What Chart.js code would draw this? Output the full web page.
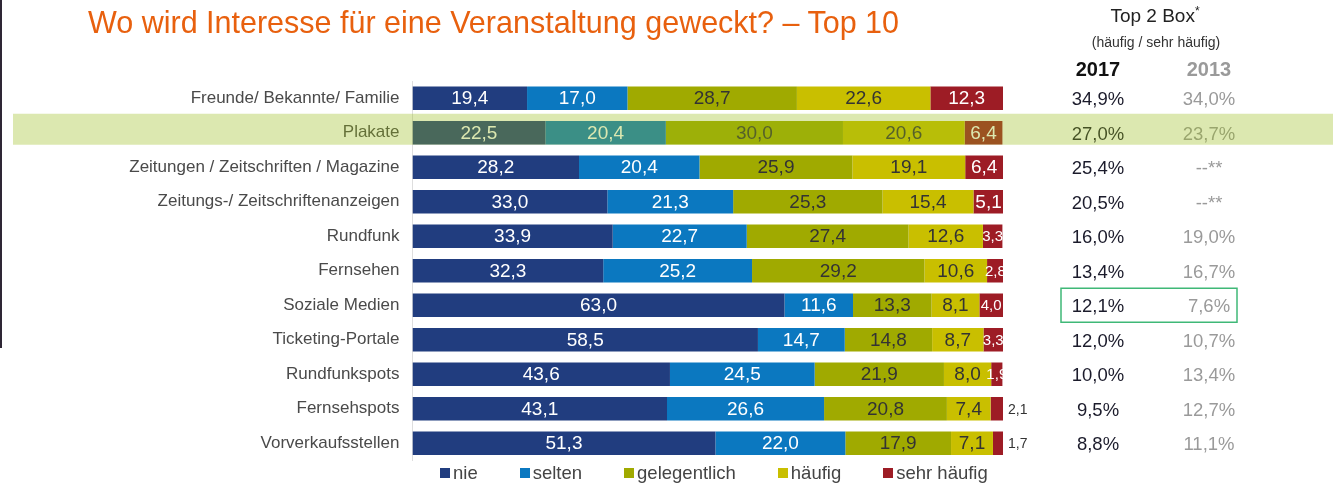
<!DOCTYPE html>
<html lang="de">
<head>
<meta charset="utf-8">
<script src="https://cdn.jsdelivr.net/npm/chart.js@4.4.0/dist/chart.umd.min.js"></script>
<style>
  body { margin: 0; background: #fff; font-family: "Liberation Sans", Arial, sans-serif; }
  #wrap { position: relative; width: 1340px; height: 486px; overflow: hidden; }
  canvas { position: absolute; left: 0; top: 0; }
  #rand { position: absolute; left: 0; top: 0; width: 2px; height: 348px; background: #2e2635; }
  #titel { position: absolute; left: 88px; top: 5px; font-size: 30.5px; line-height: 34px; color: #e8600e; white-space: nowrap; }
  .kopf { position: absolute; transform: translateX(-50%); white-space: nowrap; }
  #legende { position: absolute; left: 440px; top: 462px; display: flex; align-items: center; font-size: 18.5px; color: #444; }
  #legende span.item { display: flex; align-items: center; margin-right: 42px; }
  #legende span.box { width: 10px; height: 10px; margin-right: 3px; display: inline-block; }
</style>
</head>
<body>
<div id="wrap">
  <canvas id="chart" width="1340" height="486"></canvas>
  <div id="rand"></div>
  <div id="titel">Wo wird Interesse für eine Veranstaltung geweckt? – Top 10</div>
  <div class="kopf" style="left:1155px;top:4px;font-size:19px;color:#222;">Top 2 Box<sup style="font-size:12px">*</sup></div>
  <div class="kopf" style="left:1156px;top:34px;font-size:14px;color:#333;">(häufig / sehr häufig)</div>
  <div class="kopf" style="left:1098px;top:58px;font-size:20px;font-weight:bold;color:#111;">2017</div>
  <div class="kopf" style="left:1209px;top:58px;font-size:20px;font-weight:bold;color:#9a9a9a;">2013</div>
  <div id="legende"></div>
</div>
<script>
// Wo wird Interesse geweckt? (Angaben in %)
const kategorien = [
  'Freunde/ Bekannte/ Familie', 'Plakate', 'Zeitungen / Zeitschriften / Magazine',
  'Zeitungs-/ Zeitschriftenanzeigen', 'Rundfunk', 'Fernsehen', 'Soziale Medien',
  'Ticketing-Portale', 'Rundfunkspots', 'Fernsehspots', 'Vorverkaufsstellen'
];
const nie          = [19.4, 22.5, 28.2, 33.0, 33.9, 32.3, 63.0, 58.5, 43.6, 43.1, 51.3];
const selten       = [17.0, 20.4, 20.4, 21.3, 22.7, 25.2, 11.6, 14.7, 24.5, 26.6, 22.0];
const gelegentlich = [28.7, 30.0, 25.9, 25.3, 27.4, 29.2, 13.3, 14.8, 21.9, 20.8, 17.9];
const haeufig      = [22.6, 20.6, 19.1, 15.4, 12.6, 10.6, 8.1, 8.7, 8.0, 7.4, 7.1];
const sehrHaeufig  = [12.3, 6.4, 6.4, 5.1, 3.3, 2.8, 4.0, 3.3, 1.9, 2.1, 1.7];

// Top 2 Box Spalten
const top2017 = ['34,9%', '27,0%', '25,4%', '20,5%', '16,0%', '13,4%', '12,1%', '12,0%', '10,0%', '9,5%', '8,8%'];
const top2013 = ['34,0%', '23,7%', '--**', '--**', '19,0%', '16,7%', '7,6%', '10,7%', '13,4%', '12,7%', '11,1%'];

const markiert = 'Plakate';          // hinterlegte Zeile
const umrahmt = 'Soziale Medien';    // Kasten in der Tabelle
const aussen = ['Fernsehspots', 'Vorverkaufsstellen']; // Wert rechts neben dem Balken

const FONT = '"Liberation Sans", Arial, sans-serif';

const serien = [
  { label: 'nie', data: nie, color: '#213d7f', text: '#fff' },
  { label: 'selten', data: selten, color: '#0b78c0', text: '#fff' },
  { label: 'gelegentlich', data: gelegentlich, color: '#a0aa00', text: '#333' },
  { label: 'häufig', data: haeufig, color: '#c9bf00', text: '#333' },
  { label: 'sehr häufig', data: sehrHaeufig, color: '#9d1c25', text: '#fff' }
];

const fmt = v => v.toFixed(1).replace('.', ',');

const wertePlugin = {
  id: 'werte',
  afterDatasetsDraw(chart) {
    const ctx = chart.ctx;
    ctx.save();
    ctx.textBaseline = 'middle';
    chart.data.datasets.forEach((ds, di) => {
      const meta = chart.getDatasetMeta(di);
      meta.data.forEach((bar, i) => {
        const txt = fmt(ds.data[i]);
        const w = bar.x - bar.base;
        if (di === 4 && aussen.includes(kategorien[i])) {
          ctx.font = '14px ' + FONT;
          ctx.fillStyle = '#333';
          ctx.textAlign = 'left';
          ctx.fillText(txt, bar.x + 5, bar.y + 1);
          return;
        }
        ctx.font = '19px ' + FONT;
        if (ctx.measureText(txt).width > w - 2) ctx.font = '15px ' + FONT;
        ctx.fillStyle = serien[di].text;
        ctx.textAlign = 'center';
        ctx.fillText(txt, (bar.x + bar.base) / 2, bar.y + 1);
      });
    });
    ctx.restore();
  }
};

const tabellePlugin = {
  id: 'tabelle',
  afterDraw(chart) {
    const ctx = chart.ctx;
    const y = chart.scales.y;
    ctx.save();
    ctx.textAlign = 'center';
    ctx.textBaseline = 'middle';
    ctx.font = '18.5px ' + FONT;
    kategorien.forEach((k, i) => {
      const yy = y.getPixelForValue(i) + 2;
      ctx.fillStyle = '#1b1b2b';
      ctx.fillText(top2017[i], 1098, yy);
      ctx.fillStyle = '#9a9a9a';
      ctx.fillText(top2013[i], 1209, yy);
      if (k === umrahmt) {
        ctx.strokeStyle = '#3fb877';
        ctx.lineWidth = 1.5;
        ctx.strokeRect(1061, yy - 19, 176, 34);
      }
    });
    // Hinterlegung der markierten Zeile
    const ym = y.getPixelForValue(kategorien.indexOf(markiert));
    ctx.fillStyle = 'rgba(152,187,23,0.34)';
    ctx.fillRect(13, ym - 19, 1320, 31);
    ctx.restore();
  }
};

new Chart(document.getElementById('chart'), {
  type: 'bar',
  data: {
    labels: kategorien,
    datasets: serien.map(s => ({
      label: s.label,
      data: s.data,
      backgroundColor: s.color,
      borderWidth: 0,
      barPercentage: 0.68,
      categoryPercentage: 1
    }))
  },
  options: {
    responsive: false,
    animation: false,
    indexAxis: 'y',
    layout: { padding: { top: 81, bottom: 25.5, left: 0, right: 337 } },
    plugins: {
      legend: { display: false },
      tooltip: { enabled: false }
    },
    scales: {
      x: { stacked: true, min: 0, max: 100, display: false },
      y: {
        stacked: true,
        grid: { display: false },
        border: { display: true, color: '#dedede' },
        ticks: { padding: 5, color: '#4a4a4a', font: { size: 17, family: FONT } },
        afterFit(scale) { scale.width = 412.5; }
      }
    }
  },
  plugins: [wertePlugin, tabellePlugin]
});

// Legende
const leg = document.getElementById('legende');
serien.forEach(s => {
  const item = document.createElement('span');
  item.className = 'item';
  item.innerHTML = '<span class="box" style="background:' + s.color + '"></span>' + s.label;
  leg.appendChild(item);
});
</script>
</body>
</html>
